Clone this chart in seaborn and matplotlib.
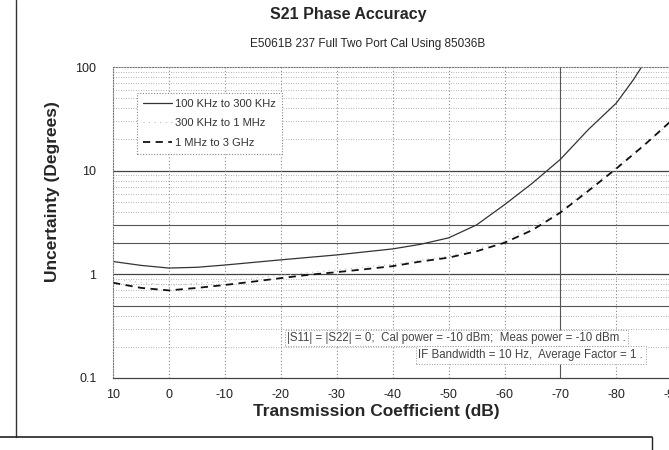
import numpy as np
import pandas as pd
import seaborn as sns
import matplotlib.pyplot as plt
from matplotlib.lines import Line2D
from matplotlib.ticker import FixedLocator, NullFormatter

# Values
db_a = [10, 5, 0, -5, -10, -20, -30, -40, -45, -50, -55, -60, -65, -70, -75, -80, -83, -84.5]
unc_a = [1.33, 1.22, 1.15, 1.17, 1.23, 1.38, 1.54, 1.76, 1.95, 2.25, 3.0, 4.7, 7.6, 12.9, 25, 45, 75, 100]

db_b = [10, 0, -10, -20, -30, -40, -50, -60, -70, -80, -90]
unc_b = [0.9, 0.78, 0.86, 0.98, 1.1, 1.25, 1.5, 2.1, 4.1, 10.8, 30]

db_c = [10, 5, 0, -5, -10, -15, -20, -25, -30, -35, -40, -45, -50, -55, -60, -65, -70, -75, -80, -85, -90]
unc_c = [0.83, 0.74, 0.70, 0.74, 0.79, 0.85, 0.92, 0.99, 1.05, 1.12, 1.2, 1.33, 1.45, 1.67, 2.02, 2.68, 3.95, 6.4, 10.5, 17.7, 31]

labels = ['100 KHz to 300 KHz', '300 KHz to 1 MHz', '1 MHz to 3 GHz']
x_ticks = [10, 0, -10, -20, -30, -40, -50, -60, -70, -80, -90]
y_ticks = [0.1, 1, 10, 100]
y_ticklabels = ['0.1', '1', '10', '100']

sns.set_style('white')
plt.rcParams['font.family'] = ['Liberation Sans', 'DejaVu Sans']

fig = plt.figure(figsize=(6.69, 4.50), dpi=100)
ax = fig.add_axes([0.169, 0.16, 0.836, 0.691])

sns.lineplot(x=db_a, y=unc_a, ax=ax, color='#333333', lw=0.9, sort=False, label=labels[0])
sns.lineplot(x=db_b, y=unc_b, ax=ax, color='#bbbbbb', lw=0.8, ls=(0, (1, 4)), sort=False, label=labels[1])
sns.lineplot(x=db_c, y=unc_c, ax=ax, color='#111111', lw=1.3, ls=(0, (4, 3)), sort=False, label=labels[2])

ax.set_yscale('log')
ax.set_ylim(0.1, 100)
ax.set_xlim(10, -90)

# log grid: decades + minor lines, a few darker ones like the scan
minor = [m * d for d in (0.1, 1, 10) for m in range(2, 10)]
for v in minor:
    dark = v in (0.5, 2, 3)
    ax.axhline(v, color='#555555' if dark else '#999999', lw=0.8 if dark else 0.6,
               ls='-' if dark else (0, (1, 2)), zorder=0)
for v in (1, 10):
    ax.axhline(v, color='#444444', lw=0.9, ls='-', zorder=0)
for xv in x_ticks[1:]:
    ax.axvline(xv, color='#555555' if xv == -70 else '#888888', lw=0.8,
               ls='-' if xv == -70 else (0, (1, 2)), zorder=0)

ax.yaxis.set_major_locator(FixedLocator(y_ticks))
ax.yaxis.set_minor_formatter(NullFormatter())
ax.set_yticks(y_ticks)
ax.set_yticklabels(y_ticklabels)
ax.set_xticks(x_ticks)
ax.set_xticklabels([str(v) for v in x_ticks])
ax.tick_params(axis='both', which='both', length=0, labelsize=9, colors='#222222')
ax.tick_params(axis='y', pad=12)
ax.tick_params(axis='x', pad=8)

for side in ['top', 'left']:
    ax.spines[side].set_linestyle((0, (1, 1.5)))
    ax.spines[side].set_color('#777777')
    ax.spines[side].set_linewidth(0.8)
ax.spines['bottom'].set_color('#444444')
ax.spines['bottom'].set_linewidth(0.9)
ax.spines['right'].set_visible(False)

ax.set_xlabel('Transmission Coefficient (dB)', fontsize=12.5, fontweight='bold')
ax.set_ylabel('Uncertainty (Degrees)', fontsize=12.5, fontweight='bold')
ax.xaxis.set_label_coords(0.47, -0.085)
ax.yaxis.set_label_coords(-0.095, 0.6)

fig.text(0.52, 0.968, 'S21 Phase Accuracy', ha='center', va='center',
         fontsize=11.5, fontweight='bold')
fig.text(0.55, 0.902, 'E5061B 237 Full Two Port Cal Using 85036B', ha='center',
         va='center', fontsize=8.5)

leg = ax.legend(loc='upper left', bbox_to_anchor=(0.043, 0.918), fontsize=8,
                handlelength=2.6, handletextpad=0.3, labelspacing=0.85,
                borderpad=0.55, borderaxespad=0, fancybox=False, framealpha=1)
leg.get_frame().set_edgecolor('#888888')
leg.get_frame().set_linestyle((0, (1, 1.5)))
leg.get_frame().set_linewidth(0.8)
for t in leg.get_texts():
    t.set_color('#333333')

ax.text(0.311, 0.129, '|S11| = |S22| = 0;  Cal power = -10 dBm;  Meas power = -10 dBm .',
        transform=ax.transAxes, fontsize=8.3, color='#444444', va='center',
        bbox=dict(boxstyle='square,pad=0.2', fc='white', ec='#999999', lw=0.7, ls=':'))
ax.text(0.546, 0.074, 'IF Bandwidth = 10 Hz,  Average Factor = 1 .',
        transform=ax.transAxes, fontsize=8.3, color='#444444', va='center',
        bbox=dict(boxstyle='square,pad=0.25', fc='white', ec='#999999', lw=0.7, ls=':'))

# page border lines from the scanned sheet
fig.add_artist(Line2D([0.024, 0.024], [0.03, 1.0], color='#333333', lw=1.0))
fig.add_artist(Line2D([0.0, 0.975], [0.03, 0.03], color='#222222', lw=1.2))
fig.add_artist(Line2D([0.975, 0.975], [0.0, 0.03], color='#222222', lw=1.0))

fig.savefig('out.png', dpi=100)
